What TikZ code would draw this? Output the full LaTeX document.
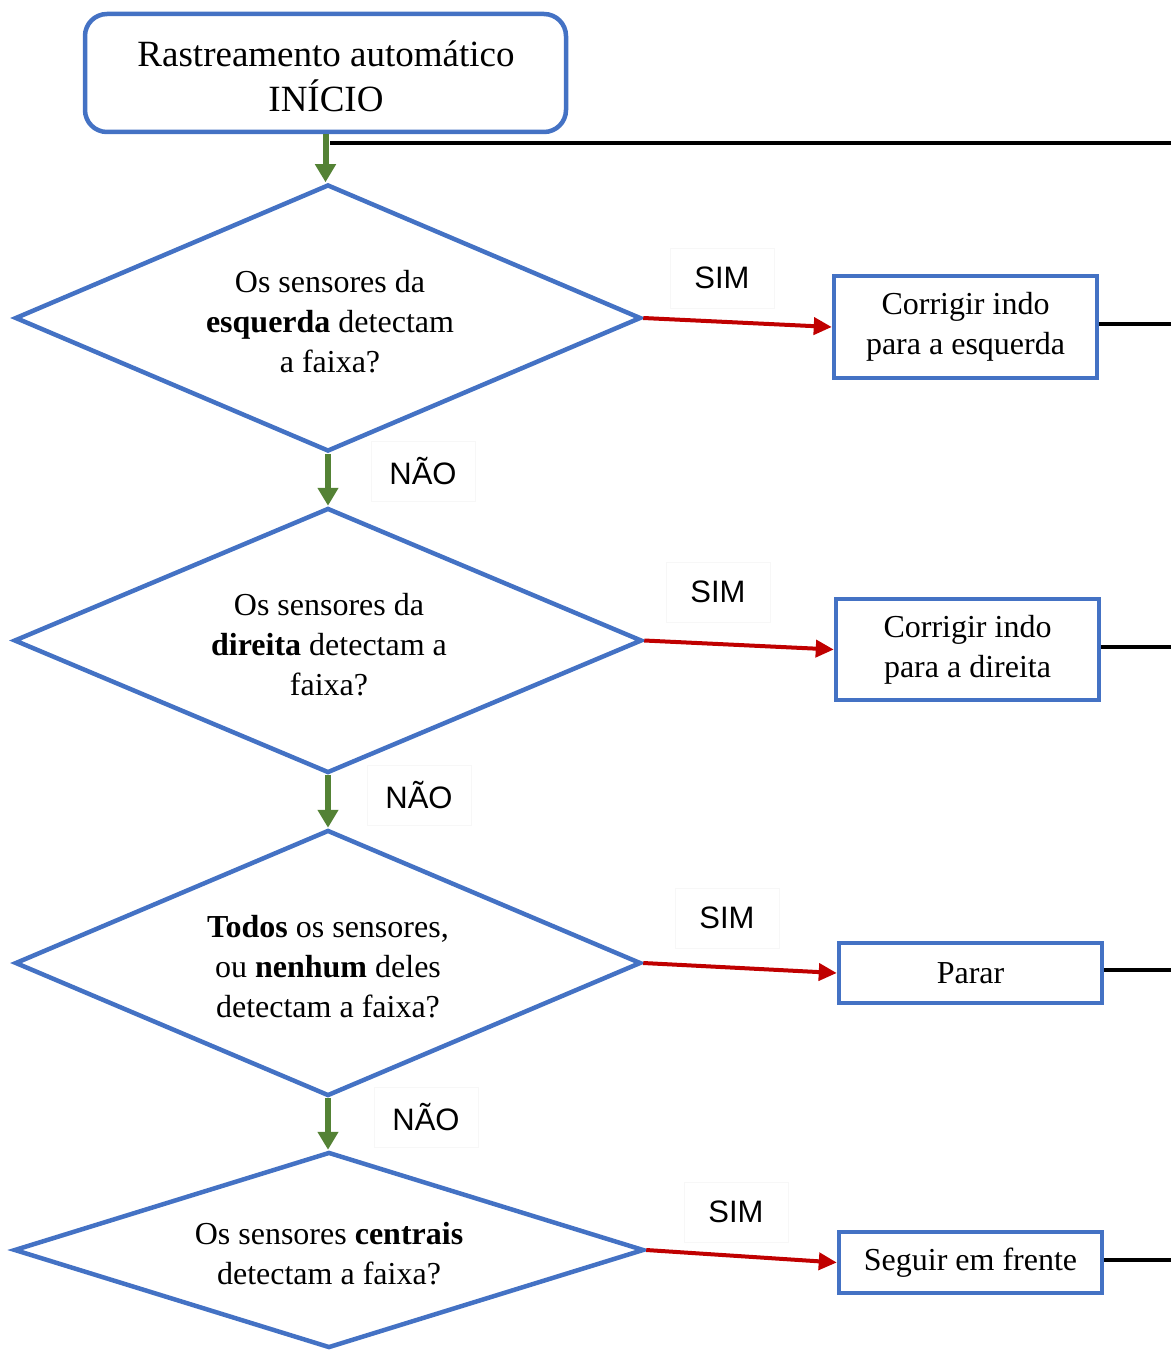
\documentclass[tikz,border=0pt]{standalone}
\usepackage{fontspec}
\setmainfont{Liberation Serif}
\newfontfamily\labelfont{Liberation Sans}
\usetikzlibrary{arrows.meta,shapes.geometric}
\definecolor{boxblue}{HTML}{4472C4}
\definecolor{yesred}{HTML}{C00000}
\definecolor{nogreen}{HTML}{548235}
\begin{document}
\begin{tikzpicture}[x=1pt,y=-1pt,
  txt/.style={font=\fontsize{32}{40}\selectfont, align=center, inner sep=0pt},
  startbox/.style={draw=boxblue, line width=4.5pt, rounded corners=22pt,
    minimum width=481pt, minimum height=118pt, inner sep=0pt},
  starttxt/.style={align=center, inner sep=0pt, font=\fontsize{37}{45}\selectfont},
  decision/.style={diamond, draw=boxblue, line width=4.5pt, inner sep=0pt},
  action/.style={rectangle, draw=boxblue, line width=4.5pt, minimum width=263pt,
    inner sep=0pt, txt},
  yesarrow/.style={draw=yesred, line width=4pt, -{Triangle[length=18pt,width=17pt]}},
  noarrow/.style={draw=nogreen, line width=6pt, -{Triangle[length=18pt,width=20pt]}},
  loopline/.style={draw=black, line width=4pt},
  answer/.style={draw=black!3, line width=1pt, minimum width=104pt,
    minimum height=60pt, inner sep=0pt, font=\labelfont\fontsize{31}{36}\selectfont}
]
\useasboundingbox (0,0) rectangle (1171,1351);

% start
\node[startbox] (start) at (325.5,73) {};
\node[starttxt] (t0) at (326,76) {Rastreamento automático\\INÍCIO};

% decisions
\node[decision, minimum width=626pt, minimum height=267pt] (d1) at (328,318) {};
\node[decision, minimum width=628pt, minimum height=265pt] (d2) at (328,640.5) {};
\node[decision, minimum width=626pt, minimum height=266pt] (d3) at (328,963) {};
\node[decision, minimum width=630pt, minimum height=196pt] (d4) at (329,1250) {};

\node[txt] (t1) at (330,322) {Os sensores da\\\textbf{esquerda} detectam\\a faixa?};
\node[txt] (t2) at (329,645) {Os sensores da\\\textbf{direita} detectam a\\faixa?};
\node[txt] (t3) at (328,967) {\textbf{Todos} os sensores,\\ou \textbf{nenhum} deles\\detectam a faixa?};
\node[txt] (t4) at (329,1254) {Os sensores \textbf{centrais}\\detectam a faixa?};

% actions
\node[action, minimum height=102pt] (a1) at (965.5,327) {Corrigir indo\\para a esquerda};
\node[action, minimum height=101pt] (a2) at (967.5,649.5) {Corrigir indo\\para a direita};
\node[action, minimum height=60pt] (a3) at (970.5,973) {Parar};
\node[action, minimum height=61pt] (a4) at (970.5,1262.5) {Seguir em frente};

% answer labels
\node[answer] (y1) at (722,278) {SIM};
\node[answer] (y2) at (718,592) {SIM};
\node[answer] (y3) at (727,918) {SIM};
\node[answer] (y4) at (736,1212) {SIM};
\node[answer] (n1) at (423,471) {NÃO};
\node[answer] (n2) at (419,795) {NÃO};
\node[answer] (n3) at (426,1117) {NÃO};

% loop-back line
\coordinate (loopA) at (330,143);
\coordinate (loopB) at (1171,143);
\draw[loopline] (loopA) -- (loopB);
\draw[loopline] ([yshift=3pt]a1.east) -- ([yshift=3pt]a1.east -| loopB);
\draw[loopline] ([yshift=3pt]a2.east) -- ([yshift=3pt]a2.east -| loopB);
\draw[loopline] ([yshift=3pt]a3.east) -- ([yshift=3pt]a3.east -| loopB);
\draw[loopline] ([yshift=3pt]a4.east) -- ([yshift=3pt]a4.east -| loopB);

% NO arrows
\draw[noarrow] (start.south) -- (start.south |- d1.north);
\draw[noarrow] (d1.south) -- (d1.south |- d2.north);
\draw[noarrow] (d2.south) -- (d2.south |- d3.north);
\draw[noarrow] (d3.south) -- (d3.south |- d4.north);

% YES arrows
\draw[yesarrow] (d1.east) -- (a1.west);
\draw[yesarrow] (d2.east) -- (a2.west);
\draw[yesarrow] (d3.east) -- (a3.west);
\draw[yesarrow] (d4.east) -- (a4.west);
\end{tikzpicture}
\end{document}
